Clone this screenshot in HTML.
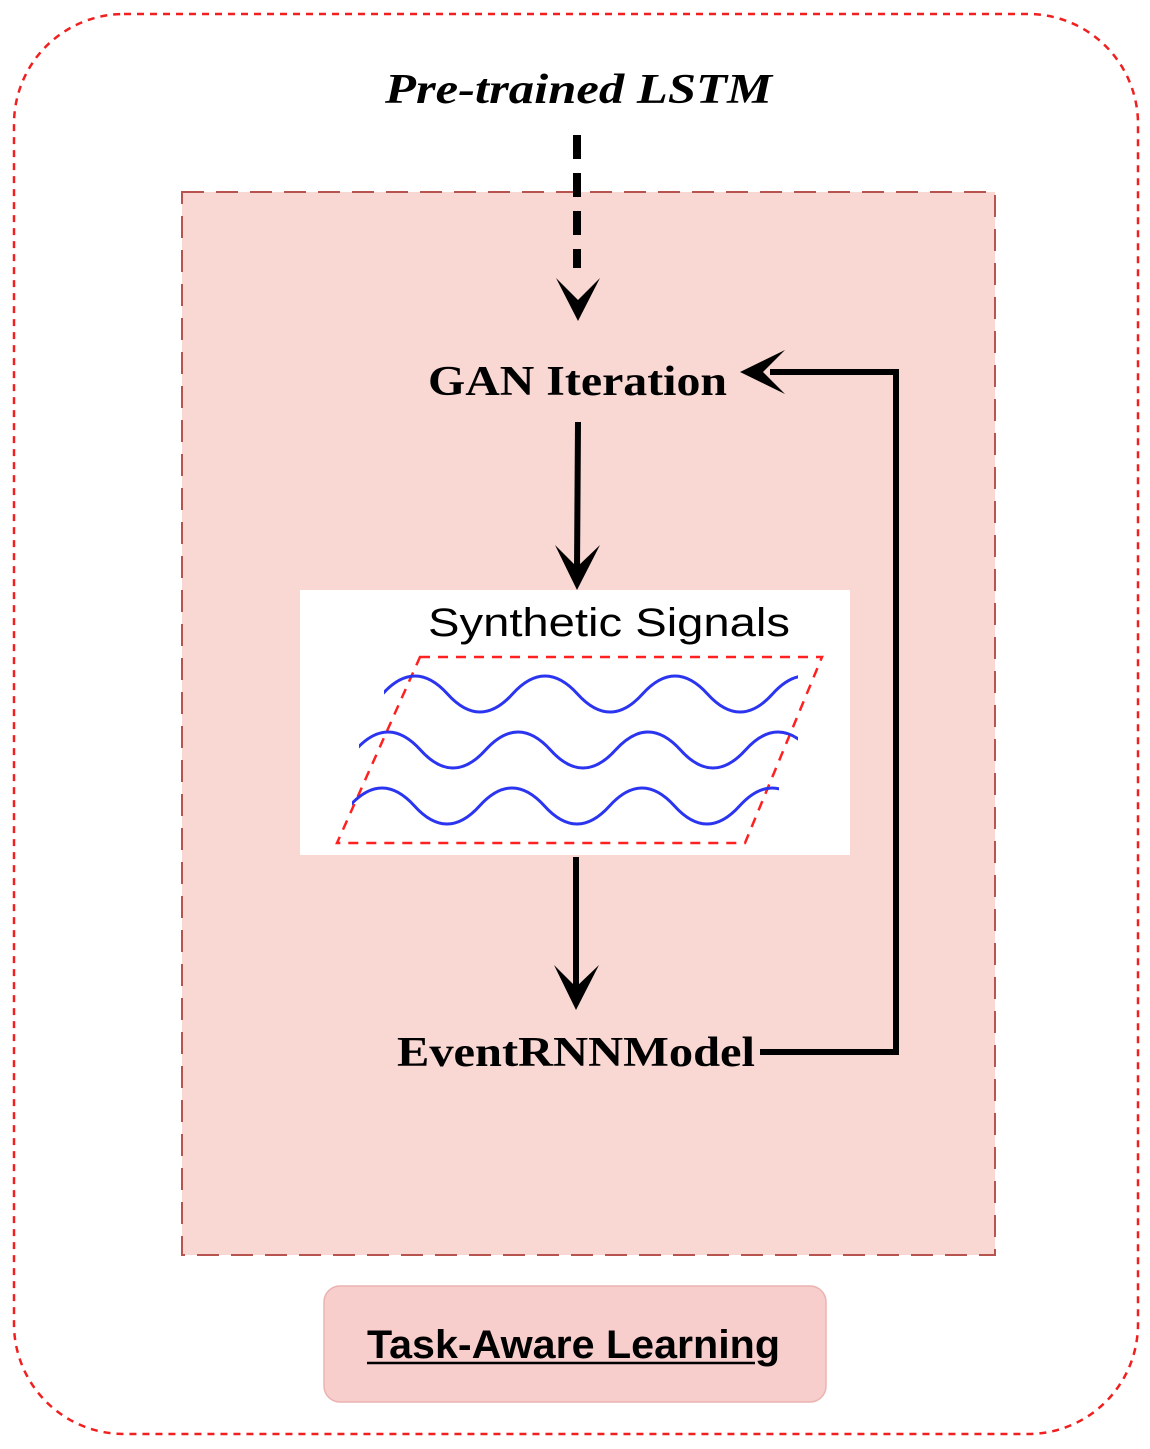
<!DOCTYPE html>
<html><head><style>body{margin:0;background:#fff}</style></head><body>
<svg width="1150" height="1444" xmlns="http://www.w3.org/2000/svg">
<defs>
<clipPath id="c1"><rect x="384" y="600" width="414" height="300"/></clipPath>
<clipPath id="c2"><rect x="359" y="600" width="439" height="300"/></clipPath>
<clipPath id="c3"><rect x="352" y="600" width="427" height="300"/></clipPath>
</defs>
<rect x="14" y="14" width="1124" height="1420" rx="110" fill="none" stroke="#f02020" stroke-width="2.5" stroke-dasharray="7,6"/>
<rect x="182" y="192" width="813" height="1063" fill="#f9d7d3" stroke="#b85450" stroke-width="2" stroke-dasharray="22,12"/>
<text x="385" y="103" textLength="387" lengthAdjust="spacingAndGlyphs" font-family="Liberation Serif, serif" font-weight="bold" font-style="italic" font-size="42">Pre-trained LSTM</text>
<line x1="577" y1="135" x2="577" y2="268" stroke="#000" stroke-width="8" stroke-dasharray="24,14"/>
<path d="M556 278 L578 300 L600 278 L578 321 Z" fill="#000"/>
<text x="428" y="395" textLength="299" lengthAdjust="spacingAndGlyphs" font-family="Liberation Serif, serif" font-weight="bold" font-size="42">GAN Iteration</text>
<line x1="578" y1="422" x2="577" y2="570" stroke="#000" stroke-width="6"/>
<path d="M555 545 L577 567 L600 545 L577 590 Z" fill="#000"/>
<rect x="300" y="590" width="550" height="265" fill="#fff"/>
<text x="428" y="636" textLength="362" lengthAdjust="spacingAndGlyphs" font-family="Liberation Sans, sans-serif" font-size="40">Synthetic Signals</text>
<polygon points="420,657 822,657 745,843 337,843" fill="none" stroke="#ff2020" stroke-width="2.5" stroke-dasharray="10,8"/>
<g fill="none" stroke="#2b35f0" stroke-width="3">
<path clip-path="url(#c1)" d="M382.5 694 Q415 658 447.5 694 T512.5 694 T577.5 694 T642.5 694 T707.5 694 T772.5 694 T837.5 694"/>
<path clip-path="url(#c2)" d="M355.5 750 Q388 714 420.5 750 T485.5 750 T550.5 750 T615.5 750 T680.5 750 T745.5 750 T810.5 750"/>
<path clip-path="url(#c3)" d="M349.5 806 Q382 770 414.5 806 T479.5 806 T544.5 806 T609.5 806 T674.5 806 T739.5 806 T804.5 806"/>
</g>
<line x1="576" y1="857" x2="576" y2="990" stroke="#000" stroke-width="6"/>
<path d="M554 965 L576 987 L599 965 L576 1010 Z" fill="#000"/>
<text x="397" y="1066" textLength="358" lengthAdjust="spacingAndGlyphs" font-family="Liberation Serif, serif" font-weight="bold" font-size="42">EventRNNModel</text>
<polyline points="760,1052 896,1052 896,372 770,372" fill="none" stroke="#000" stroke-width="6"/>
<path d="M785 350 L763 372 L785 394 L740 372 Z" fill="#000"/>
<rect x="324" y="1286" width="502" height="116" rx="16" fill="#f8cecc" stroke="#eab3b0" stroke-width="1.5"/>
<text x="367" y="1358" textLength="413" lengthAdjust="spacingAndGlyphs" font-family="Liberation Sans, sans-serif" font-weight="bold" font-size="40">Task-Aware Learning</text>
<line x1="367" y1="1363" x2="755" y2="1363" stroke="#000" stroke-width="2.5"/>
</svg>
</body></html>
